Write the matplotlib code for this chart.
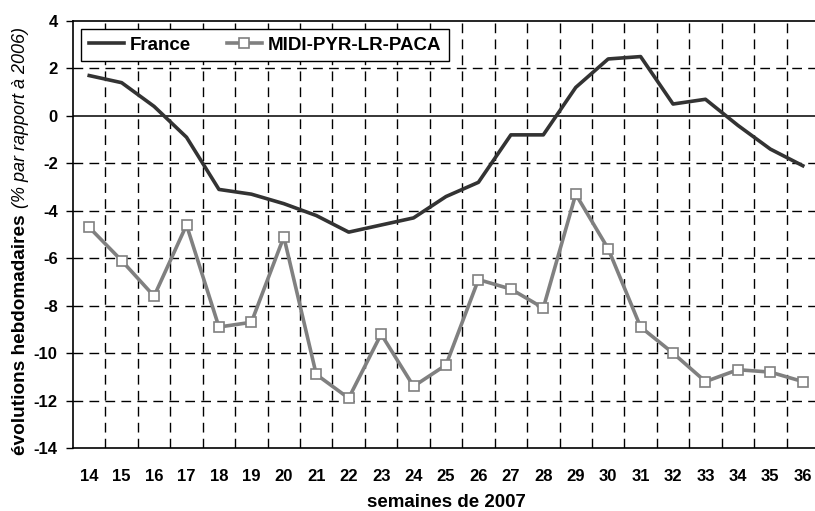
import matplotlib.pyplot as plt
import numpy as np

plt.rcParams['font.family'] = ['Liberation Sans', 'DejaVu Sans']

weeks = list(range(14, 37))
france = [1.7, 1.4, 0.4, -0.9, -3.1, -3.3, -3.7, -4.2, -4.9, -4.6, -4.3, -3.4,
          -2.8, -0.8, -0.8, 1.2, 2.4, 2.5, 0.5, 0.7, -0.4, -1.4, -2.1]
midi = [-4.7, -6.1, -7.6, -4.6, -8.9, -8.7, -5.1, -10.9, -11.9, -9.2, -11.4, -10.5,
        -6.9, -7.3, -8.1, -3.3, -5.6, -8.9, -10.0, -11.2, -10.7, -10.8, -11.2]
yticks = list(range(-14, 5, 2))

fig = plt.figure(figsize=(8.15, 5.11), dpi=100)
ax = fig.add_axes([73 / 815, 63 / 511, 746 / 815, 427 / 511])

# grid: dashed between weeks, dashed horizontal except the zero line
dash = (0, (7, 4.5))
for xv in np.arange(weeks[0] + 0.5, weeks[-1], 1):
    ax.axvline(xv, color='black', lw=1, ls=dash, zorder=1)
for yv in yticks:
    if yv == 0:
        ax.axhline(0, color='black', lw=1.1, zorder=1)
    elif -14 < yv < 4:
        ax.axhline(yv, color='black', lw=1, ls=dash, zorder=1)

ax.plot(weeks, france, color='#333333', lw=2.6, label='France', zorder=3)
ax.plot(weeks, midi, color='#808080', lw=2.6, marker='s', ms=7,
        mfc='white', mec='#808080', mew=1.2, label='MIDI-PYR-LR-PACA', zorder=3)

ax.set_xlim(13.5, 36.5)
ax.set_ylim(-14, 4)
ax.set_xticks(weeks)
ax.set_xticklabels([str(w) for w in weeks], fontsize=12, fontweight='bold')
ax.set_yticks(yticks)
ax.set_yticklabels([str(v) for v in yticks], fontsize=12, fontweight='bold')
ax.tick_params(axis='x', length=0, pad=15)
ax.tick_params(axis='y', direction='out', length=5, width=1, pad=6)
ax.spines['right'].set_visible(False)
for s in ['left', 'bottom', 'top']:
    ax.spines[s].set_linewidth(1.2)

ax.set_xlabel('semaines de 2007', fontsize=13.5, fontweight='bold', labelpad=7.5)

fig.text(0.025, 1 - 455 / 511, 'évolutions hebdomadaires', rotation=90,
         ha='center', va='bottom', fontsize=13.7, fontweight='bold')
fig.text(0.025, 1 - 208 / 511, '(% par rapport à 2006)', rotation=90,
         ha='center', va='bottom', fontsize=13, style='italic')

leg = ax.legend(loc='upper left', bbox_to_anchor=(8 / 746, 1 - 8 / 427), ncol=2,
                prop={'weight': 'bold', 'size': 13.5}, borderaxespad=0,
                frameon=True, fancybox=False, edgecolor='black', framealpha=1,
                handlelength=1.9, handletextpad=0.3, columnspacing=1.9,
                borderpad=0.4)
leg.get_frame().set_linewidth(1)

fig.savefig('out.png', dpi=100)
